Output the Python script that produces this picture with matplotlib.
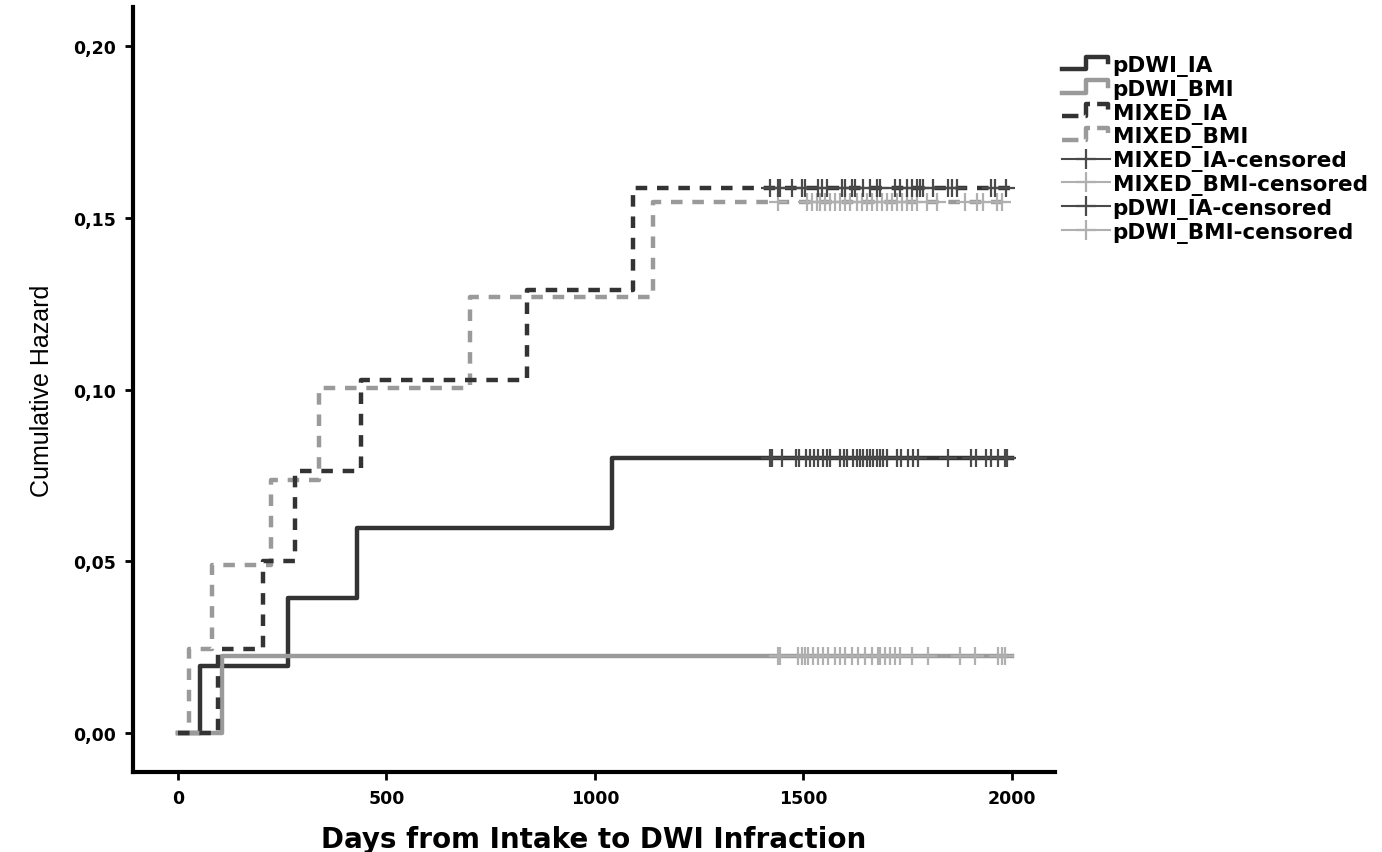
import matplotlib
matplotlib.use("Agg")
import matplotlib.pyplot as plt
from matplotlib.lines import Line2D
from matplotlib.legend_handler import HandlerBase
from matplotlib.ticker import FuncFormatter

# step curves: event times (days) and cumulative hazard after each step
pdwi_ia_t = [0, 54, 264, 429, 1041, 2000]
pdwi_ia_h = [0.0, 0.0196, 0.0393, 0.0596, 0.0800, 0.0800]
pdwi_bmi_t = [0, 105, 2000]
pdwi_bmi_h = [0.0, 0.0225, 0.0225]
mixed_ia_t = [0, 96, 204, 281, 438, 837, 1091, 2000]
mixed_ia_h = [0.0, 0.0245, 0.0500, 0.0763, 0.1029, 0.1290, 0.1588, 0.1588]
mixed_bmi_t = [0, 27, 81, 222, 339, 700, 1139, 1985]
mixed_bmi_h = [0.0, 0.0245, 0.0490, 0.0737, 0.1004, 0.1270, 0.1546, 0.1546]

# censored times
pdwi_ia_cens = [1420, 1426, 1448, 1482, 1490, 1506, 1516, 1525, 1536, 1548, 1556,
                 1564, 1588, 1597, 1604, 1620, 1628, 1636, 1644, 1652, 1660, 1668,
                 1676, 1684, 1691, 1700, 1724, 1735, 1751, 1763, 1775, 1847, 1903,
                 1915, 1939, 1951, 1967, 1983, 1989]
pdwi_bmi_cens = [1440, 1444, 1488, 1496, 1504, 1512, 1524, 1536, 1548, 1560, 1576,
                 1588, 1600, 1616, 1632, 1648, 1664, 1680, 1684, 1696, 1708, 1720,
                 1732, 1760, 1800, 1876, 1912, 1967, 1976, 1983]
mixed_ia_cens = [1420, 1440, 1444, 1472, 1496, 1504, 1536, 1544, 1556, 1592, 1600,
                 1616, 1624, 1644, 1660, 1676, 1684, 1720, 1732, 1748, 1760, 1772,
                 1780, 1788, 1812, 1847, 1856, 1868, 1951, 1959, 1987]
mixed_bmi_cens = [1440, 1508, 1520, 1532, 1540, 1552, 1564, 1576, 1588, 1600, 1612,
                  1628, 1640, 1652, 1664, 1676, 1688, 1700, 1712, 1724, 1736, 1748,
                  1760, 1772, 1796, 1820, 1888, 1916, 1932, 1964, 1976]

labels = ['pDWI_IA', 'pDWI_BMI', 'MIXED_IA', 'MIXED_BMI',
          'MIXED_IA-censored', 'MIXED_BMI-censored', 'pDWI_IA-censored', 'pDWI_BMI-censored']

DARK = '#333333'
GRAY = '#9a9a9a'
DARK_M = '#4a4a4a'
GRAY_M = '#b0b0b0'
DASH = (0, (2.6, 2.2))
BOLD_FONT = 'DejaVu Sans'


class StepHandler(HandlerBase):
    # little step glyph like the SPSS legend
    def create_artists(self, legend, orig_handle, xdescent, ydescent,
                       width, height, fontsize, trans):
        w, h = width, height
        xs = [-xdescent, -xdescent + 0.5 * w, -xdescent + 0.5 * w, -xdescent + 0.95 * w, -xdescent + 0.95 * w]
        ys = [0.15 * h, 0.15 * h, 0.95 * h, 0.95 * h, 0.6 * h]
        ln = Line2D(xs, ys, color=orig_handle.get_color(), lw=orig_handle.get_linewidth(),
                    linestyle=orig_handle.get_linestyle(), transform=trans)
        return [ln]


fig = plt.figure(figsize=(13.82, 8.53), dpi=100)
ax = fig.add_axes([0.0962, 0.0938, 0.667, 0.8968])

ax.step(pdwi_ia_t, pdwi_ia_h, where='post', color=DARK, lw=3.2)
ax.step(pdwi_bmi_t, pdwi_bmi_h, where='post', color=GRAY, lw=3.2)
ax.step(mixed_bmi_t, mixed_bmi_h, where='post', color=GRAY, lw=3.2, linestyle=DASH)
ax.step(mixed_ia_t, mixed_ia_h, where='post', color=DARK, lw=3.2, linestyle=DASH)

ax.plot(pdwi_bmi_cens, [pdwi_bmi_h[-1]] * len(pdwi_bmi_cens), linestyle='none',
        marker='+', ms=13, mew=1.6, color=GRAY_M)
ax.plot(pdwi_ia_cens, [pdwi_ia_h[-1]] * len(pdwi_ia_cens), linestyle='none',
        marker='+', ms=13, mew=1.6, color=DARK_M)
ax.plot(mixed_bmi_cens, [mixed_bmi_h[-1]] * len(mixed_bmi_cens), linestyle='none',
        marker='+', ms=13, mew=1.6, color=GRAY_M)
ax.plot(mixed_ia_cens, [mixed_ia_h[-1]] * len(mixed_ia_cens), linestyle='none',
        marker='+', ms=13, mew=1.6, color=DARK_M)

ax.set_xlim(-108, 2103)
ax.set_ylim(-0.0114, 0.2114)
ax.set_xticks([0, 500, 1000, 1500, 2000])
ax.set_yticks([0.0, 0.05, 0.10, 0.15, 0.20])
ax.yaxis.set_major_formatter(FuncFormatter(lambda v, p: f"{v:.2f}".replace('.', ',')))

for s in ['top', 'right']:
    ax.spines[s].set_visible(False)
for s in ['left', 'bottom']:
    ax.spines[s].set_linewidth(3)
ax.tick_params(direction='out', length=6, width=2, labelsize=12.5, pad=6)
for lab in ax.get_xticklabels() + ax.get_yticklabels():
    lab.set_fontfamily(BOLD_FONT)
    lab.set_fontweight('bold')

ax.set_xlabel('Days from Intake to DWI Infraction', fontsize=20, fontweight='bold',
              fontfamily=BOLD_FONT, labelpad=13)
ax.set_ylabel('Cumulative Hazard', fontsize=18, fontfamily='Liberation Sans',
              fontstretch='condensed', labelpad=14)

handles = [
    Line2D([], [], color=DARK, lw=3.2),
    Line2D([], [], color=GRAY, lw=3.2),
    Line2D([], [], color=DARK, lw=3.2, linestyle=DASH),
    Line2D([], [], color=GRAY, lw=3.2, linestyle=DASH),
    Line2D([], [], color=DARK_M, lw=1.5, marker='+', ms=14, mew=1.6),
    Line2D([], [], color=GRAY_M, lw=1.5, marker='+', ms=14, mew=1.6),
    Line2D([], [], color=DARK_M, lw=1.5, marker='+', ms=14, mew=1.6),
    Line2D([], [], color=GRAY_M, lw=1.5, marker='+', ms=14, mew=1.6),
]
hmap = {h: StepHandler() for h in handles[:4]}
leg = fig.legend(handles, labels, handler_map=hmap, loc='upper left',
                 bbox_to_anchor=(1062 / 1382, 1 - 56 / 853), frameon=False,
                 prop={'family': BOLD_FONT, 'weight': 'bold', 'size': 15.5},
                 handlelength=2.25, handletextpad=0.1, labelspacing=0.13,
                 borderaxespad=0, borderpad=0)

fig.savefig('out.png', dpi=100)
